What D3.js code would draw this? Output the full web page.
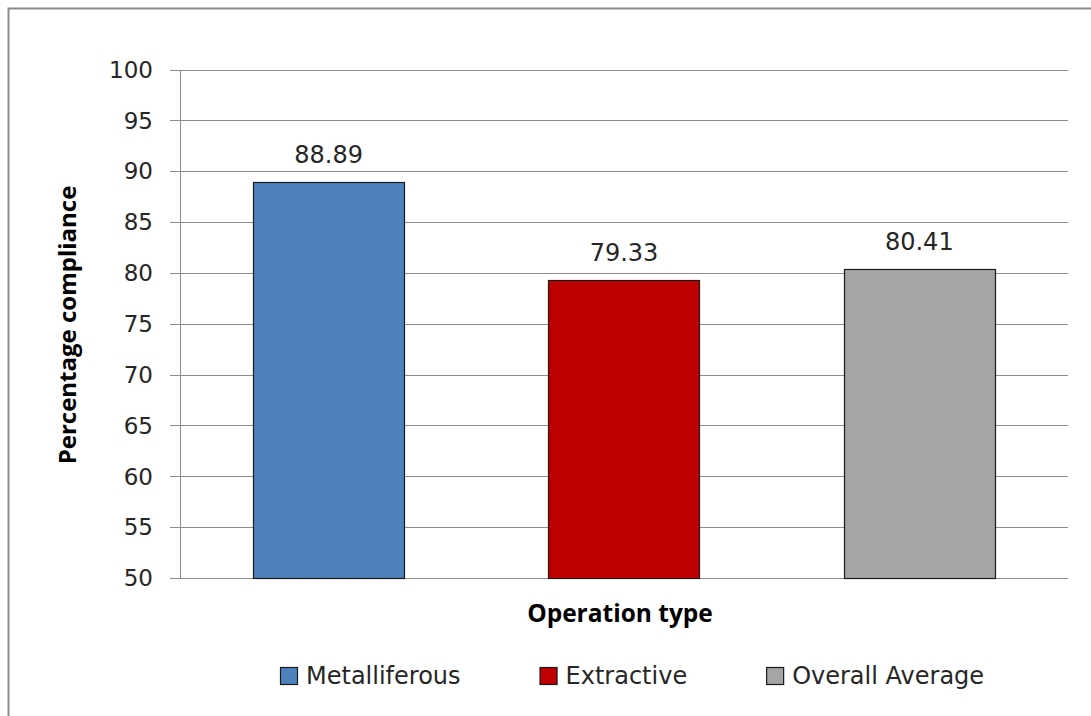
<!DOCTYPE html>
<html>
<head>
<meta charset="utf-8">
<script src="https://cdn.jsdelivr.net/npm/d3@7/dist/d3.min.js"></script>
<style>
  html, body { margin: 0; padding: 0; background: #fff; }
  svg { display: block; }
</style>
</head>
<body>
<svg id="chart" width="1091" height="716"></svg>
<script>
// ---- data ----
const categories = ["Metalliferous", "Extractive", "Overall Average"];
const values = [88.89, 79.33, 80.41];
const colors = ["#4F81BD", "#C00000", "#A5A5A5"];
const yTicks = [50, 55, 60, 65, 70, 75, 80, 85, 90, 95, 100];
const yTitle = "Percentage compliance";
const xTitle = "Operation type";

(function () {
const svg = d3.select("#chart");
const W = 1091, H = 716;
const pLeft = 180, pRight = 1068, pTop = 69.5, pBottom = 578;
const textColor = "#262626";

// outer border (chart area frame)
svg.append("rect")
  .attr("x", 8.5).attr("y", 8.5)
  .attr("width", W + 20).attr("height", H + 20)
  .attr("fill", "#fff")
  .attr("stroke", "#8a8a8a").attr("stroke-width", 2);

const y = d3.scaleLinear().domain([50, 100]).range([pBottom, pTop]);
const x = d3.scaleBand().domain(categories).range([pLeft, pRight])
  .paddingInner(0.487).paddingOuter(0.247);

// gridlines with tick extensions
svg.append("g").selectAll("line.grid").data(yTicks).join("line")
  .attr("class", "grid")
  .attr("x1", pLeft - 10).attr("x2", pRight)
  .attr("y1", d => Math.round(y(d)) + 0.5).attr("y2", d => Math.round(y(d)) + 0.5)
  .attr("stroke", "#8c8c8c").attr("stroke-width", 1);

// y axis line
svg.append("line")
  .attr("x1", pLeft + 0.5).attr("x2", pLeft + 0.5)
  .attr("y1", Math.round(y(100)) + 0.5).attr("y2", Math.round(y(50)) + 0.5)
  .attr("stroke", "#8c8c8c").attr("stroke-width", 1);

// y tick labels
svg.append("g").selectAll("text.tick").data(yTicks).join("text")
  .attr("x", 153)
  .attr("y", d => y(d))
  .attr("dy", "0.36em")
  .attr("text-anchor", "end")
  .attr("font-family", "DejaVu Sans, sans-serif")
  .attr("font-size", 23)
  .attr("fill", textColor)
  .text(d => d);

// bars
svg.append("g").selectAll("rect.bar").data(values).join("rect")
  .attr("class", "bar")
  .attr("x", (d, i) => Math.round(x(categories[i])) + 0.5)
  .attr("y", d => Math.round(y(d)) + 0.5)
  .attr("width", Math.round(x.bandwidth()))
  .attr("height", d => Math.round(y(50)) - Math.round(y(d)))
  .attr("fill", (d, i) => colors[i])
  .attr("stroke", "#1a1a1a").attr("stroke-width", 1.2);

// data labels
svg.append("g").selectAll("text.lbl").data(values).join("text")
  .attr("x", (d, i) => x(categories[i]) + x.bandwidth() / 2)
  .attr("y", d => y(d) - 19)
  .attr("text-anchor", "middle")
  .attr("font-family", "DejaVu Sans, sans-serif")
  .attr("font-size", 24)
  .attr("fill", textColor)
  .text(d => d.toFixed(2));

// axis titles
svg.append("text")
  .attr("transform", `translate(66,325) rotate(-90)`)
  .attr("text-anchor", "middle")
  .attr("dominant-baseline", "central")
  .attr("font-family", "Open Sans, sans-serif")
  .attr("font-weight", "bold")
  .attr("font-size", 24)
  .attr("fill", "#000")
  .text(yTitle);

svg.append("text")
  .attr("x", 620)
  .attr("y", 622)
  .attr("text-anchor", "middle")
  .attr("font-family", "Open Sans, sans-serif")
  .attr("font-weight", "bold")
  .attr("font-size", 24.5)
  .attr("fill", "#000")
  .text(xTitle);

// legend
const legend = svg.append("g");
let lx = 280;
categories.forEach((c, i) => {
  legend.append("rect")
    .attr("x", lx + 0.5).attr("y", 667.5)
    .attr("width", 17).attr("height", 17)
    .attr("fill", colors[i])
    .attr("stroke", "#1a1a1a").attr("stroke-width", 1.2);
  const t = legend.append("text")
    .attr("x", lx + 26).attr("y", 684)
    .attr("font-family", "DejaVu Sans, sans-serif")
    .attr("font-size", 24)
    .attr("fill", textColor)
    .text(c);
  lx = lx + 26 + t.node().getComputedTextLength() + 79;
});
})();
</script>
</body>
</html>
